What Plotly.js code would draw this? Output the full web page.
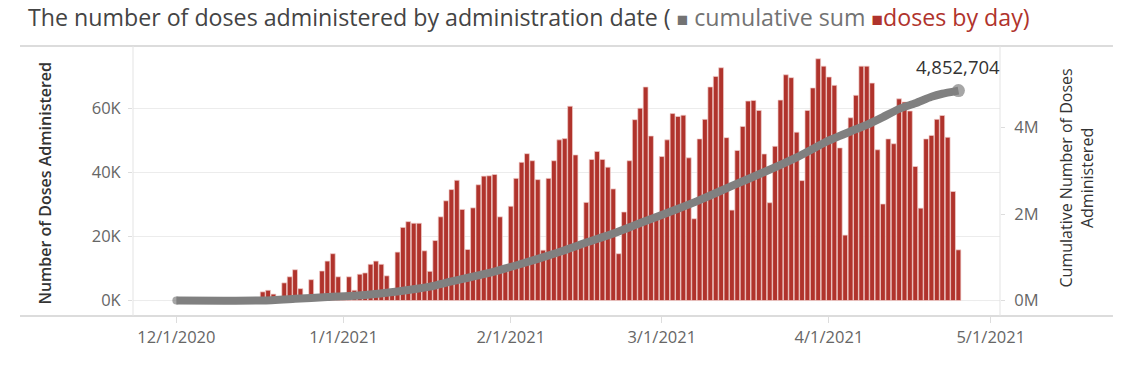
<!DOCTYPE html>
<html>
<head>
<meta charset="utf-8">
<script src="https://cdn.plot.ly/plotly-3.0.1.min.js"></script>
<style>
  html, body { margin: 0; padding: 0; background: #fff; }
  #chart { width: 1140px; height: 375px; }
</style>
</head>
<body>
<div id="chart"></div>
<script>
// ---- data ----
// daily doses, one value per day starting 2020-12-17
const firstBarDate = '2020-12-17';
const dosesByDay = [
  2700, 3200, 2000, 600, 5500, 7400, 9600, 3700, 500, 6500,
  1000, 9200, 12300, 14600, 7400, 800, 7400, 3200, 8200, 8600,
  11300, 12300, 11300, 7700, 2500, 15100, 22800, 24600, 24100, 24100,
  15500, 9100, 18700, 26100, 31100, 34600, 37500, 28400, 15900, 28900,
  36100, 38800, 38900, 39300, 26100, 10000, 29400, 38100, 43100, 45800,
  43600, 37700, 15700, 38100, 43600, 50100, 50500, 60600, 45400, 17000,
  30600, 44000, 46500, 44000, 41600, 34800, 14600, 27600, 43600, 56400,
  60000, 66600, 51300, 25500, 44900, 50100, 58300, 57400, 57800, 44500,
  25500, 50400, 56500, 66600, 69900, 72600, 50800, 28200, 46800, 54300,
  62200, 62400, 59300, 45700, 30500, 48100, 62500, 70400, 69500, 52500,
  37400, 59300, 66300, 75400, 73100, 69700, 67100, 47600, 20400, 57000,
  64000, 73100, 73100, 67800, 47000, 30100, 50400, 48900, 62900, 61900,
  59100, 41800, 28800, 50400, 51500, 56500, 57700, 50900, 34000, 15800
];

// cumulative sum line, read at points along the curve
const cumDates = [
  '2020-12-01', '2020-12-17', '2020-12-23', '2020-12-29', '2021-01-05',
  '2021-01-11', '2021-01-17', '2021-01-21', '2021-01-28', '2021-02-03',
  '2021-02-09', '2021-02-15', '2021-02-20', '2021-02-25', '2021-03-04',
  '2021-03-08', '2021-03-14', '2021-03-20', '2021-03-26', '2021-04-01',
  '2021-04-05', '2021-04-08', '2021-04-11', '2021-04-14', '2021-04-17',
  '2021-04-20', '2021-04-22', '2021-04-25'
];
const cumValues = [
  0, 0, 40000, 80000, 130000,
  210000, 320000, 440000, 640000, 850000,
  1080000, 1340000, 1550000, 1790000, 2120000,
  2320000, 2650000, 2970000, 3310000, 3700000,
  3910000, 4060000, 4240000, 4430000, 4560000,
  4710000, 4780000, 4852704
];

const leftTickVals = [0, 20000, 40000, 60000];
const leftTickText = ['0K', '20K', '40K', '60K'];
const rightTickVals = [0, 2000000, 4000000];
const rightTickText = ['0M', '2M', '4M'];

const titleMain = 'The number of doses administered by administration date (';
const legendCum = 'cumulative sum';
const legendDaily = 'doses by day)';
const leftAxisTitle = 'Number of Doses Administered';
const rightAxisTitle = 'Cumulative Number of Doses<br>Administered';

// ---- styles ----
const RED = '#b0332c';
const GREY = '#808080';
const FONT = 'Open Sans, sans-serif';

const lastIdx = cumValues.length - 1;
const markerSizes = cumValues.map((v, i) => (i === 0 ? 8 : (i === lastIdx ? 13 : 0)));

const traces = [
  {
    type: 'bar',
    x0: firstBarDate,
    dx: 86400000,
    y: dosesByDay,
    yaxis: 'y',
    marker: { color: RED, line: { color: '#f0cfcc', width: 0.7 } },
    hoverinfo: 'skip'
  },
  {
    type: 'scatter',
    mode: 'lines+markers',
    x: cumDates,
    y: cumValues,
    yaxis: 'y2',
    line: { color: GREY, width: 8, shape: 'spline', smoothing: 0.5 },
    marker: { color: GREY, size: markerSizes, line: { width: 0 } },
    hoverinfo: 'skip'
  }
];

const layout = {
  width: 1140,
  height: 375,
  margin: { l: 133, r: 140, t: 46, b: 59 },
  paper_bgcolor: '#ffffff',
  plot_bgcolor: '#ffffff',
  showlegend: false,
  bargap: 0.1,
  font: { family: FONT, color: '#666', size: 16 },
  title: {
    text: titleMain + ' <span style="color:#737373;font-size:19px">■</span> ' +
          '<span style="color:#737373">' + legendCum + '</span> ' +
          '<span style="color:' + RED + ';font-size:19px">■</span>' +
          '<span style="color:' + RED + '">' + legendDaily + '</span>',
    x: 28 / 1140,
    xanchor: 'left',
    xref: 'container',
    y: 1 - 18 / 375,
    yanchor: 'middle',
    yref: 'container',
    font: { family: FONT, size: 23.2, color: '#444' }
  },
  xaxis: {
    type: 'date',
    range: ['2020-11-22 23:00', '2021-05-02 17:00'],
    tick0: '2020-12-01',
    dtick: 'M1',
    tickformat: '%-m/%-d/%Y',
    showgrid: false,
    zeroline: false,
    showline: false,
    ticks: 'outside',
    ticklen: 6,
    tickcolor: '#dddddd',
    tickfont: { family: FONT, size: 16.5, color: '#666' }
  },
  yaxis: {
    range: [-4829, 79377],
    tickvals: leftTickVals,
    ticktext: leftTickText,
    showgrid: true,
    gridcolor: '#ececec',
    gridwidth: 1,
    zeroline: false,
    showline: false,
    ticks: 'outside',
    ticklen: 4,
    tickcolor: '#dddddd',
    ticklabelstandoff: 4,
    tickfont: { family: FONT, size: 16.5, color: '#666' }
  },
  yaxis2: {
    overlaying: 'y',
    side: 'right',
    range: [-358000, 5884000],
    tickvals: rightTickVals,
    ticktext: rightTickText,
    showgrid: false,
    zeroline: false,
    showline: false,
    ticks: 'outside',
    ticklen: 4,
    tickcolor: '#dddddd',
    ticklabelstandoff: 6,
    tickfont: { family: FONT, size: 16.5, color: '#666' }
  },
  shapes: [
    { type: 'line', xref: 'paper', yref: 'paper', x0: -0.1303, x1: 1.1303, y0: 1, y1: 1,
      line: { color: '#dcdcdc', width: 2 }, layer: 'above' },
    { type: 'line', xref: 'paper', yref: 'paper', x0: -0.1303, x1: 1.1303, y0: 0, y1: 0,
      line: { color: '#dcdcdc', width: 2 }, layer: 'above' },
    { type: 'line', xref: 'paper', yref: 'paper', x0: 0, x1: 0, y0: 0, y1: 1,
      line: { color: '#e3e3e3', width: 1 }, layer: 'above' },
    { type: 'line', xref: 'paper', yref: 'paper', x0: 1, x1: 1, y0: 0, y1: 1,
      line: { color: '#e3e3e3', width: 1 }, layer: 'above' },
    { type: 'line', xref: 'paper', yref: 'y', x0: 0, x1: 1, y0: 0, y1: 0,
      line: { color: '#b5b5b5', width: 1, dash: 'dot' }, layer: 'below' }
  ],
  annotations: [
    {
      text: leftAxisTitle, xref: 'paper', yref: 'paper',
      x: -0.1015, y: 0.494, xanchor: 'center', yanchor: 'middle',
      textangle: -90, showarrow: false,
      font: { family: FONT, size: 16, color: '#333', weight: 600 }
    },
    {
      text: rightAxisTitle, xref: 'paper', yref: 'paper',
      x: 1.0888, y: 0.513, xanchor: 'center', yanchor: 'middle',
      textangle: -90, showarrow: false,
      font: { family: FONT, size: 16, color: '#333' }
    },
    {
      text: cumValues[lastIdx].toLocaleString('en-US'),
      x: cumDates[lastIdx], y: cumValues[lastIdx], xref: 'x', yref: 'y2',
      xanchor: 'center', yanchor: 'bottom', yshift: 10, showarrow: false,
      font: { family: FONT, size: 18.5, color: '#333' }
    }
  ]
};

Plotly.newPlot('chart', traces, layout, { displayModeBar: false, staticPlot: true });
</script>
</body>
</html>
